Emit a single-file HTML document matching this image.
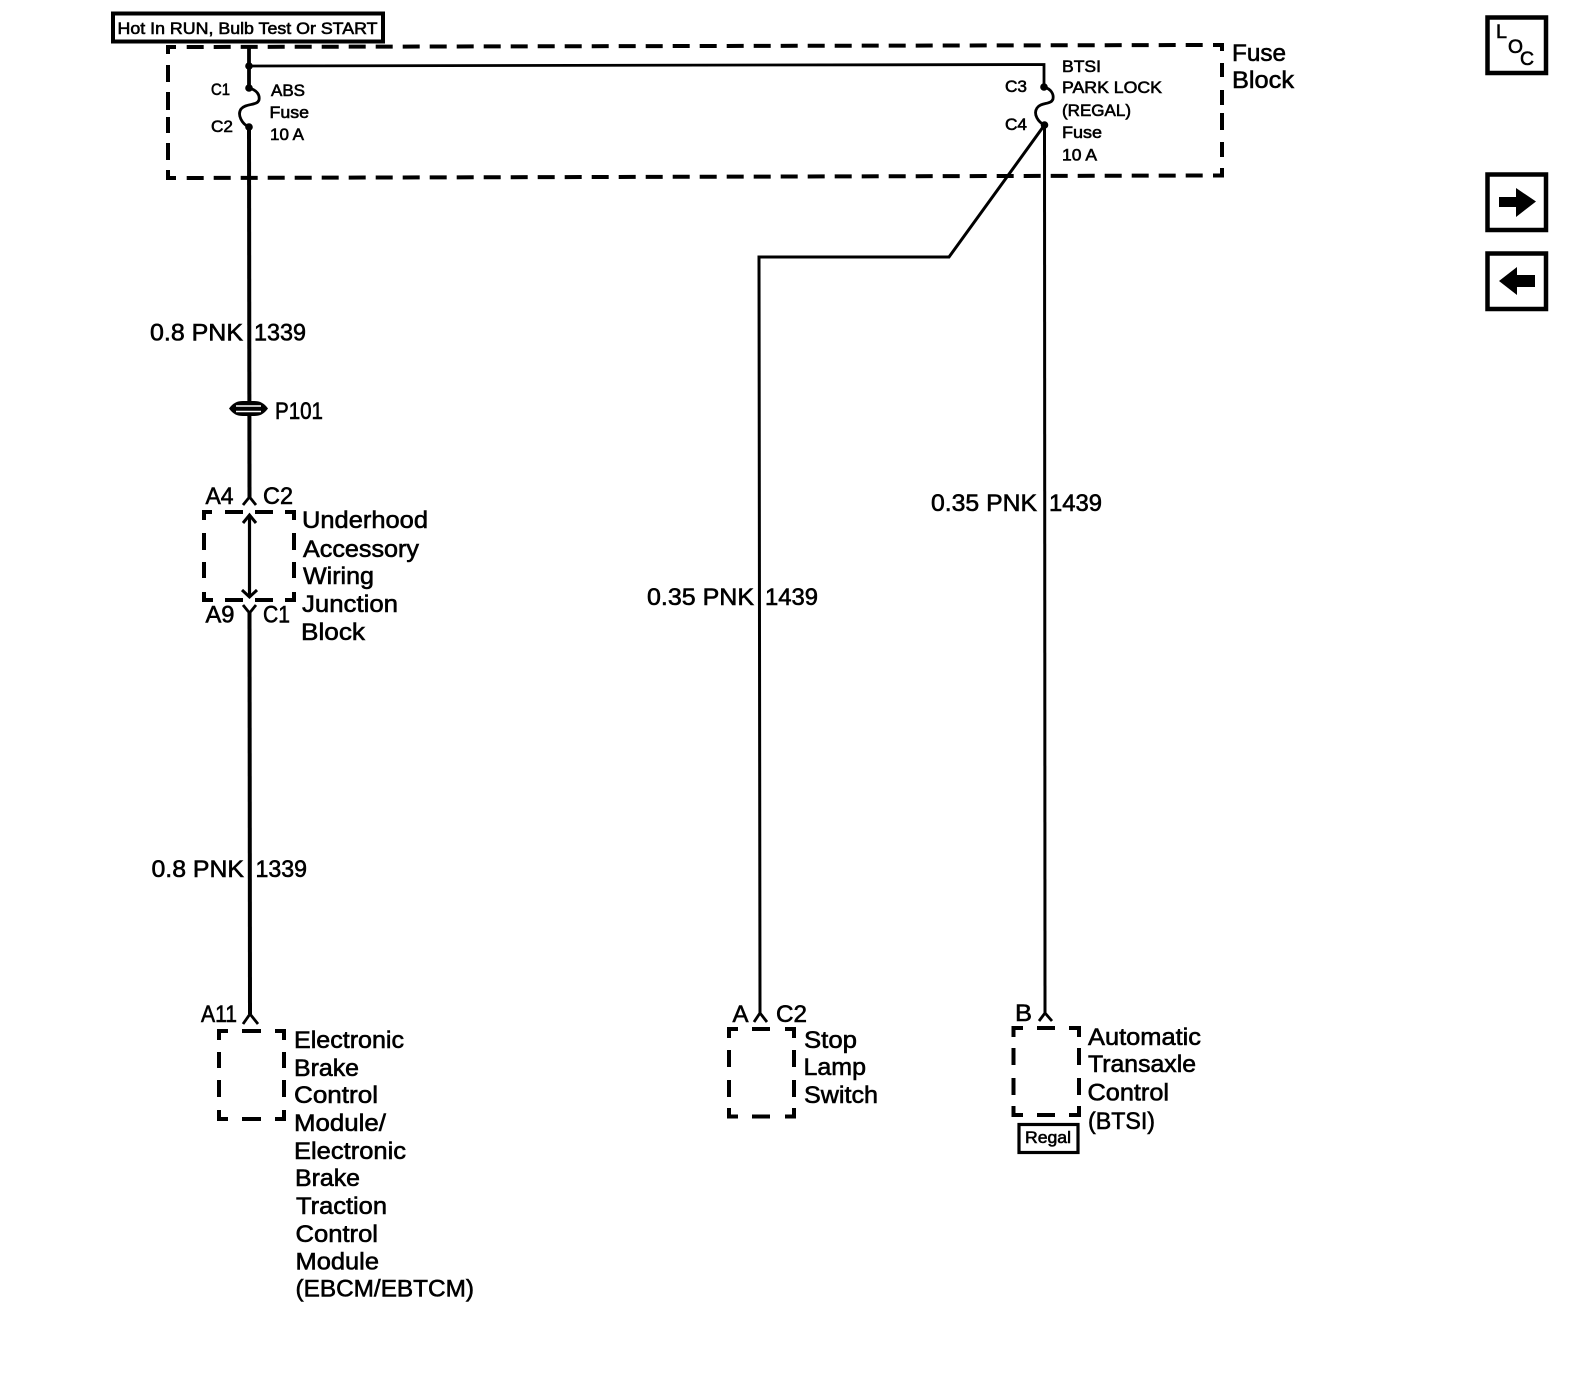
<!DOCTYPE html>
<html>
<head>
<meta charset="utf-8">
<style>
html,body{margin:0;padding:0;background:#fff}
svg{display:block}
text{font-family:"Liberation Sans",sans-serif;fill:#000;stroke:#000;stroke-width:.6}
.l{font-size:24px}
.s{font-size:17px}
</style>
</head>
<body>
<svg width="1584" height="1376" viewBox="0 0 1584 1376" xmlns="http://www.w3.org/2000/svg">
<rect width="1584" height="1376" fill="#fff"/>

<!-- Header box -->
<rect x="113" y="13.500" width="270" height="28" fill="#fff" stroke="#000" stroke-width="4"/>
<text class="s" x="117.500" y="34" textLength="260" lengthAdjust="spacingAndGlyphs">Hot In RUN, Bulb Test Or START</text>

<!-- Fuse block dashed -->
<g fill="none" stroke="#000" stroke-width="4">
<path d="M186.700 47 L1205 45" stroke-dasharray="17 10"/>
<path d="M186.700 178 L1205 175.500" stroke-dasharray="17 10"/>
<path d="M176 47 H168 V54 M168 65 V82 M168 92 V110 M168 117 V133 M168 143 V160 M168 170 V178 H176"/>
<path d="M1213 45 H1222 V51 M1222 63 V77 M1222 90 V105 M1222 113 V130 M1222 142 V157 M1222 168 V175.500 H1213"/>
</g>
<text class="l" x="1232" y="61" textLength="54" lengthAdjust="spacingAndGlyphs">Fuse</text>
<text class="l" x="1232" y="88" textLength="62" lengthAdjust="spacingAndGlyphs">Block</text>

<!-- Wires -->
<g fill="none" stroke="#000">
<path d="M249 47 V88" stroke-width="3.800"/>
<path d="M249 66 L1044 64.500 V87" stroke-width="2.800"/>
<path d="M249 88 C257 90 260 95 259 100 C257 106 246 103 241 109 C237 115 242 124 249 127" stroke-width="2.800"/>
<path d="M1044 87 C1051 89 1054 94 1053 99 C1051 105 1041 102 1037 108 C1033 114 1038 122 1044.500 125" stroke-width="2.800"/>
<path d="M249 127 L249.500 497" stroke-width="4"/>
<path d="M243 505 L249.500 497 L256 505" stroke-width="2.800"/>
<path d="M249.500 516 V596" stroke-width="3.200"/>
<path d="M243 523 L249.500 515 L256 523" stroke-width="3"/>
<path d="M242 590 L249.500 597 L257 590" stroke-width="3"/>
<path d="M243 605 L249.500 613 L256 605" stroke-width="2.800"/>
<path d="M249.500 613 L250 1014" stroke-width="4"/>
<path d="M243 1024 L250 1014 L258 1024" stroke-width="2.800"/>
<path d="M1044.500 125 L949 257 H759 L760 1013" stroke-width="3" stroke-linejoin="miter"/>
<path d="M754 1022 L760 1013 L767 1022" stroke-width="2.800"/>
<path d="M1044.500 125 L1045 1013" stroke-width="3"/>
<path d="M1039 1021 L1045 1013 L1052 1021" stroke-width="2.800"/>
</g>
<circle cx="249" cy="66" r="3.800"/>
<circle cx="249" cy="88" r="3.800"/>
<circle cx="249" cy="127" r="3.800"/>
<circle cx="1044" cy="87" r="3.800"/>
<circle cx="1044.500" cy="125" r="3.800"/>

<!-- Fuse labels -->
<text class="s" x="211" y="95" textLength="19" lengthAdjust="spacingAndGlyphs">C1</text>
<text class="s" x="211" y="132" textLength="22" lengthAdjust="spacingAndGlyphs">C2</text>
<text class="s" x="271" y="96" textLength="34" lengthAdjust="spacingAndGlyphs">ABS</text>
<text class="s" x="269.500" y="118" textLength="39.500" lengthAdjust="spacingAndGlyphs">Fuse</text>
<text class="s" x="270" y="140" textLength="34" lengthAdjust="spacingAndGlyphs">10 A</text>
<text class="s" x="1005" y="92" textLength="22" lengthAdjust="spacingAndGlyphs">C3</text>
<text class="s" x="1005" y="130" textLength="22" lengthAdjust="spacingAndGlyphs">C4</text>
<text class="s" x="1062" y="72" textLength="39" lengthAdjust="spacingAndGlyphs">BTSI</text>
<text class="s" x="1062" y="93" textLength="100" lengthAdjust="spacingAndGlyphs">PARK LOCK</text>
<text class="s" x="1062" y="116" textLength="69" lengthAdjust="spacingAndGlyphs">(REGAL)</text>
<text class="s" x="1062" y="138" textLength="40" lengthAdjust="spacingAndGlyphs">Fuse</text>
<text class="s" x="1062" y="160.500" textLength="35" lengthAdjust="spacingAndGlyphs">10 A</text>

<!-- Wire labels -->
<text class="l" x="150" y="340.500" textLength="93" lengthAdjust="spacingAndGlyphs">0.8 PNK</text>
<text class="l" x="254" y="340.500" textLength="52" lengthAdjust="spacingAndGlyphs">1339</text>
<text class="l" x="151.500" y="877" textLength="92.500" lengthAdjust="spacingAndGlyphs">0.8 PNK</text>
<text class="l" x="255.500" y="877" textLength="51.500" lengthAdjust="spacingAndGlyphs">1339</text>
<text class="l" x="647" y="605" textLength="107" lengthAdjust="spacingAndGlyphs">0.35 PNK</text>
<text class="l" x="765" y="605" textLength="53" lengthAdjust="spacingAndGlyphs">1439</text>
<text class="l" x="931" y="511" textLength="106" lengthAdjust="spacingAndGlyphs">0.35 PNK</text>
<text class="l" x="1049" y="511" textLength="53" lengthAdjust="spacingAndGlyphs">1439</text>

<!-- P101 -->
<path d="M229 408.500 C233 403 237 401 243 401 H254 C260 401 264 403 268 408.500 C264 414 260 416 254 416 H243 C237 416 233 414 229 408.500 Z"/>
<path d="M236 406 H261 M236 411.500 H261" stroke="#fff" stroke-width="1.600"/>
<text class="l" x="275" y="419" textLength="48" lengthAdjust="spacingAndGlyphs">P101</text>

<!-- Junction block -->
<g fill="none" stroke="#000" stroke-width="4">
<path d="M212 512 H204 V520 M204 533 V550 M204 562 V578 M204 592 V600 H213 M225 600 H243 M255 600 H273 M285 600 H294 V592 M294 578 V562 M294 550 V533 M294 520 V512 H285 M273 512 H255 M243 512 H225"/>
</g>
<text class="l" x="205.500" y="504" textLength="28" lengthAdjust="spacingAndGlyphs">A4</text>
<text class="l" x="263" y="504" textLength="30" lengthAdjust="spacingAndGlyphs">C2</text>
<text class="l" x="205.500" y="622.500" textLength="29" lengthAdjust="spacingAndGlyphs">A9</text>
<text class="l" x="263" y="622.500" textLength="27" lengthAdjust="spacingAndGlyphs">C1</text>
<text class="l" x="302" y="528" textLength="126" lengthAdjust="spacingAndGlyphs">Underhood</text>
<text class="l" x="303" y="557" textLength="116" lengthAdjust="spacingAndGlyphs">Accessory</text>
<text class="l" x="303" y="584" textLength="71" lengthAdjust="spacingAndGlyphs">Wiring</text>
<text class="l" x="302" y="612" textLength="96" lengthAdjust="spacingAndGlyphs">Junction</text>
<text class="l" x="301" y="640" textLength="64" lengthAdjust="spacingAndGlyphs">Block</text>

<!-- EBCM -->
<g fill="none" stroke="#000" stroke-width="4">
<path d="M228 1031 H219 V1040 M219 1052 V1068 M219 1080 V1097 M219 1110 V1119 H228 M242 1119 H261 M275 1119 H284 V1110 M284 1097 V1080 M284 1068 V1052 M284 1040 V1031 H275 M261 1031 H242"/>
</g>
<text class="l" x="201" y="1022" textLength="36" lengthAdjust="spacingAndGlyphs">A11</text>
<text class="l" x="294" y="1048" textLength="110" lengthAdjust="spacingAndGlyphs">Electronic</text>
<text class="l" x="294" y="1076" textLength="65" lengthAdjust="spacingAndGlyphs">Brake</text>
<text class="l" x="294" y="1103" textLength="84" lengthAdjust="spacingAndGlyphs">Control</text>
<text class="l" x="294" y="1131" textLength="92" lengthAdjust="spacingAndGlyphs">Module/</text>
<text class="l" x="294" y="1159" textLength="112" lengthAdjust="spacingAndGlyphs">Electronic</text>
<text class="l" x="295" y="1186" textLength="65" lengthAdjust="spacingAndGlyphs">Brake</text>
<text class="l" x="296" y="1214" textLength="91" lengthAdjust="spacingAndGlyphs">Traction</text>
<text class="l" x="295.500" y="1242" textLength="82.500" lengthAdjust="spacingAndGlyphs">Control</text>
<text class="l" x="295.500" y="1269.500" textLength="83.500" lengthAdjust="spacingAndGlyphs">Module</text>
<text class="l" x="295.500" y="1296.500" textLength="178.500" lengthAdjust="spacingAndGlyphs">(EBCM/EBTCM)</text>

<!-- Stop lamp -->
<g fill="none" stroke="#000" stroke-width="4">
<path d="M738 1029 H729 V1038 M729 1050 V1067 M729 1080 V1097 M729 1108 V1116.500 H738 M752 1116.500 H770 M785 1116.500 H794 V1108 M794 1097 V1080 M794 1067 V1050 M794 1038 V1029 H785 M770 1029 H752"/>
</g>
<text class="l" x="732.500" y="1022" textLength="16" lengthAdjust="spacingAndGlyphs">A</text>
<text class="l" x="776" y="1022" textLength="31" lengthAdjust="spacingAndGlyphs">C2</text>
<text class="l" x="804" y="1048" textLength="53" lengthAdjust="spacingAndGlyphs">Stop</text>
<text class="l" x="803.500" y="1075" textLength="62.500" lengthAdjust="spacingAndGlyphs">Lamp</text>
<text class="l" x="804" y="1103" textLength="74" lengthAdjust="spacingAndGlyphs">Switch</text>

<!-- BTSI -->
<g fill="none" stroke="#000" stroke-width="4">
<path d="M1023 1028 H1013.500 V1037 M1013.500 1048 V1065 M1013.500 1078 V1095 M1013.500 1106 V1115 H1023 M1037 1115 H1055 M1069 1115 H1079 V1106 M1079 1095 V1078 M1079 1065 V1048 M1079 1037 V1028 H1069 M1055 1028 H1037"/>
</g>
<text class="l" x="1015" y="1021" textLength="17" lengthAdjust="spacingAndGlyphs">B</text>
<text class="l" x="1088" y="1045" textLength="113" lengthAdjust="spacingAndGlyphs">Automatic</text>
<text class="l" x="1088" y="1072" textLength="108" lengthAdjust="spacingAndGlyphs">Transaxle</text>
<text class="l" x="1087.500" y="1100.500" textLength="81.500" lengthAdjust="spacingAndGlyphs">Control</text>
<text class="l" x="1088" y="1129" textLength="67" lengthAdjust="spacingAndGlyphs">(BTSI)</text>
<rect x="1019" y="1124.500" width="59" height="28" fill="#fff" stroke="#000" stroke-width="3.200"/>
<text class="s" x="1025" y="1143" textLength="46" lengthAdjust="spacingAndGlyphs">Regal</text>

<!-- Right icons -->
<rect x="1487.500" y="17.500" width="58.500" height="55.500" fill="#fff" stroke="#000" stroke-width="4.500"/>
<text x="1496" y="38" font-size="19" textLength="11" lengthAdjust="spacingAndGlyphs">L</text>
<text x="1508" y="53" font-size="19" textLength="15" lengthAdjust="spacingAndGlyphs">O</text>
<text x="1520" y="65" font-size="19" textLength="14" lengthAdjust="spacingAndGlyphs">C</text>

<rect x="1487.500" y="174.500" width="58.500" height="55.500" fill="#fff" stroke="#000" stroke-width="4.500"/>
<polygon points="1499,197 1516,197 1516,188 1536,201.500 1516,217 1516,207 1499,207"/>

<rect x="1487.500" y="253.500" width="58.500" height="55.500" fill="#fff" stroke="#000" stroke-width="4.500"/>
<polygon points="1499,281 1517,267 1517,275 1535,275 1535,287 1517,287 1517,295"/>
</svg>
</body>
</html>
